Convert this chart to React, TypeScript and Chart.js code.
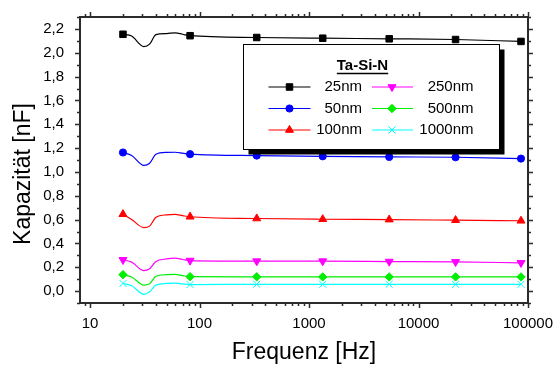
import React, { useEffect, useRef } from 'react';
import { Chart, registerables } from 'chart.js';
import { drawPoint } from 'chart.js/helpers';

Chart.register(...registerables);

const FONT = '"Liberation Sans", Arial, Helvetica, sans-serif';

// Frequencies in Hz
const frequencies = [20, 24, 31, 35, 40, 50, 60, 70, 82, 333, 1334, 5400, 21800, 86300];
const markerFrequencies = [20, 82, 333, 1334, 5400, 21800, 86300];

// Capacitance in nF
const cap25nm = [2.155, 2.140, 2.052, 2.072, 2.152, 2.161, 2.167, 2.155, 2.143, 2.128, 2.122, 2.117, 2.111, 2.095];
const cap50nm = [1.163, 1.138, 1.055, 1.073, 1.148, 1.164, 1.165, 1.158, 1.149, 1.137, 1.131, 1.126, 1.123, 1.112];
const cap100nm = [0.645, 0.600, 0.533, 0.545, 0.620, 0.640, 0.643, 0.633, 0.624, 0.609, 0.603, 0.600, 0.595, 0.590];
const cap250nm = [0.262, 0.243, 0.171, 0.187, 0.248, 0.270, 0.276, 0.265, 0.256, 0.251, 0.251, 0.248, 0.245, 0.237];
const cap500nm = [0.138, 0.118, 0.050, 0.061, 0.124, 0.138, 0.140, 0.130, 0.121, 0.120, 0.119, 0.119, 0.119, 0.119];
const cap1000nm = [0.064, 0.045, -0.027, -0.005, 0.050, 0.064, 0.066, 0.060, 0.055, 0.057, 0.057, 0.057, 0.057, 0.057];

const seriesLabels = ['25nm', '50nm', '100nm', '250nm', '500nm', '1000nm'];
const seriesValues = [cap25nm, cap50nm, cap100nm, cap250nm, cap500nm, cap1000nm];

const xTickValues = [10, 100, 1000, 10000, 100000];
const yTickValues = [0, 0.2, 0.4, 0.6, 0.8, 1.0, 1.2, 1.4, 1.6, 1.8, 2.0, 2.2];

const legendTitle = 'Ta-Si-N';
const xTitle = 'Frequenz [Hz]';
const yTitle = 'Kapazität [nF]';

const styles = [
  { color: '#000000', pointStyle: 'rect', radius: 4.6, rotation: 0 },
  { color: '#0000ff', pointStyle: 'circle', radius: 3.6, rotation: 0 },
  { color: '#ff0000', pointStyle: 'triangle', radius: 4.6, rotation: 0 },
  { color: '#ff00ff', pointStyle: 'triangle', radius: 4.6, rotation: 180 },
  { color: '#00ee00', pointStyle: 'rectRot', radius: 4.2, rotation: 0 },
  { color: '#00ffff', pointStyle: 'crossRot', radius: 5, rotation: 0 },
];

const AXIS_COLOR = '#2b2b2b';

const framePlugin = {
  id: 'originFrame',
  afterDraw(chart: any) {
    const { ctx, chartArea } = chart;
    const { left, right, top, bottom } = chartArea;
    const xs = chart.scales.x;
    const ys = chart.scales.y;
    ctx.save();
    ctx.strokeStyle = AXIS_COLOR;
    ctx.lineWidth = 1.5;
    // x ticks (bottom and top, outward)
    const drawX = (v: number, len: number) => {
      const px = Math.round(xs.getPixelForValue(v)) + 0.5;
      if (px < left - 0.5 || px > right + 0.5) return;
      ctx.beginPath();
      ctx.moveTo(px, bottom);
      ctx.lineTo(px, bottom + len);
      ctx.moveTo(px, top);
      ctx.lineTo(px, top - len);
      ctx.stroke();
    };
    const decades = [1, ...xTickValues];
    decades.forEach((d) => {
      for (let k = 2; k <= 9; k++) {
        const v = k * d;
        if (v >= xs.min && v <= xs.max) drawX(v, 3);
      }
    });
    xTickValues.forEach((v) => drawX(v, 5));
    // y ticks (left and right, outward)
    const drawY = (v: number, len: number) => {
      const py = Math.round(ys.getPixelForValue(v)) + 0.5;
      if (py < top - 0.5 || py > bottom + 0.5) return;
      ctx.beginPath();
      ctx.moveTo(left, py);
      ctx.lineTo(left - len, py);
      ctx.moveTo(right, py);
      ctx.lineTo(right + len, py);
      ctx.stroke();
    };
    yTickValues.forEach((v) => {
      drawY(v, 5);
      drawY(v - 0.1, 3);
    });
    drawY(yTickValues[yTickValues.length - 1] + 0.1, 3);
    // frame
    ctx.lineWidth = 2;
    ctx.strokeRect(left, top, right - left, bottom - top);

    // y title
    ctx.fillStyle = '#000';
    ctx.font = `23px ${FONT}`;
    ctx.textAlign = 'center';
    ctx.textBaseline = 'middle';
    ctx.translate(24, (top + bottom) / 2 + 14);
    ctx.rotate(-Math.PI / 2);
    ctx.fillText(yTitle, 0, 0);
    ctx.restore();

    // legend
    ctx.save();
    const L = left + 163.5;
    const T = top + 27.5;
    const W = 256;
    const H = 105;
    ctx.fillStyle = '#000';
    ctx.fillRect(L + 5, T + 5, W, H);
    ctx.fillStyle = '#fff';
    ctx.fillRect(L, T, W, H);
    ctx.strokeStyle = '#000';
    ctx.lineWidth = 1;
    ctx.strokeRect(L, T, W, H);

    ctx.fillStyle = '#000';
    ctx.font = `bold 15px ${FONT}`;
    ctx.textAlign = 'center';
    ctx.textBaseline = 'middle';
    const tx = L + 119;
    const ty = T + 21;
    ctx.fillText(legendTitle, tx, ty);
    const tw = ctx.measureText(legendTitle).width;
    ctx.lineWidth = 1.5;
    ctx.beginPath();
    ctx.moveTo(tx - tw / 2, T + 29);
    ctx.lineTo(tx + tw / 2, T + 29);
    ctx.stroke();

    const rowY = [T + 42.5, T + 64, T + 85.5];
    const cols = [
      { l0: L + 25, l1: L + 67, m: L + 46, t: L + 118.5 },
      { l0: L + 128.5, l1: L + 169.5, m: L + 148.5, t: L + 230 },
    ];
    ctx.font = `15px ${FONT}`;
    ctx.textAlign = 'right';
    seriesLabels.forEach((lab, i) => {
      const c = cols[Math.floor(i / 3)];
      const y = rowY[i % 3];
      const st = styles[i];
      ctx.strokeStyle = st.color;
      ctx.fillStyle = st.color;
      ctx.lineWidth = 1.2;
      ctx.beginPath();
      ctx.moveTo(c.l0, y);
      ctx.lineTo(c.l1, y);
      ctx.stroke();
      ctx.lineWidth = 1;
      drawPoint(ctx, { pointStyle: st.pointStyle, rotation: st.rotation, radius: st.radius, borderWidth: 1 } as any, c.m, y);
      ctx.fillStyle = '#000';
      ctx.fillText(lab, c.t, y);
    });
    ctx.restore();
  },
};

export default function App() {
  const canvasRef = useRef<HTMLCanvasElement | null>(null);

  useEffect(() => {
    if (!canvasRef.current) return;
    const datasets = seriesValues.map((vals, i) => ({
      label: seriesLabels[i],
      data: frequencies.map((f, j) => ({ x: f, y: vals[j] })),
      borderColor: styles[i].color,
      backgroundColor: styles[i].color,
      borderWidth: 1.2,
      pointStyle: styles[i].pointStyle,
      pointRotation: styles[i].rotation,
      pointRadius: (c: any) => (markerFrequencies.includes(frequencies[c.dataIndex]) ? styles[i].radius : 0),
      pointBorderWidth: 1,
      pointBorderColor: styles[i].color,
      pointBackgroundColor: styles[i].color,
      pointHoverRadius: 0,
      cubicInterpolationMode: 'monotone',
      fill: false,
    }));

    const chart = new Chart(canvasRef.current, {
      type: 'line',
      data: { datasets: datasets as any },
      options: {
        animation: false,
        responsive: false,
        devicePixelRatio: 1,
        events: [],
        layout: { padding: { top: 13, right: 30, left: 0, bottom: 0 } },
        plugins: { legend: { display: false }, tooltip: { enabled: false } },
        scales: {
          x: {
            type: 'logarithmic',
            min: 8.1,
            max: 100000,
            grid: { display: false },
            border: { display: false },
            afterBuildTicks: (scale: any) => {
              scale.ticks = xTickValues.map((v) => ({ value: v, major: true }));
            },
            afterFit: (scale: any) => {
              scale.height = 65;
            },
            ticks: {
              autoSkip: false,
              maxRotation: 0,
              padding: 4,
              color: '#000',
              font: { family: FONT, size: 15 },
              callback: (v: any) => String(v),
            },
            title: {
              display: true,
              text: xTitle,
              color: '#000',
              font: { family: FONT, size: 23 },
              padding: { top: 0, bottom: 2 },
            },
          },
          y: {
            type: 'linear',
            min: -0.1,
            max: 2.3,
            grid: { display: false },
            border: { display: false },
            afterBuildTicks: (scale: any) => {
              scale.ticks = yTickValues.map((v) => ({ value: v }));
            },
            afterFit: (scale: any) => {
              scale.width = 80;
            },
            ticks: {
              padding: 8,
              color: '#000',
              font: { family: FONT, size: 15 },
              callback: (v: any) => Number(v).toFixed(1).replace('.', ','),
            },
            title: { display: false, text: yTitle },
          },
        },
      },
      plugins: [framePlugin],
    } as any);
    return () => chart.destroy();
  }, []);

  return (
    <div style={{ position: 'absolute', left: 0, top: 0, width: 558, height: 368 }}>
      <canvas ref={canvasRef} width={558} height={368} />
    </div>
  );
}
